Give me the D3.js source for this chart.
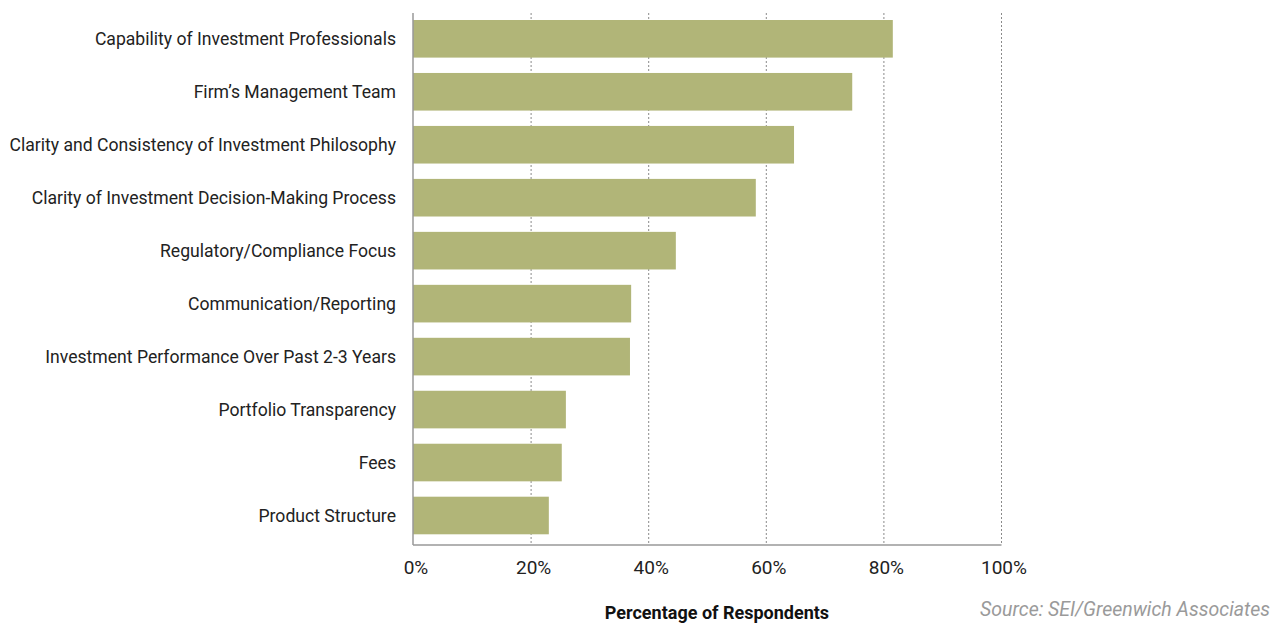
<!DOCTYPE html>
<html>
<head>
<meta charset="utf-8">
<script src="https://cdn.jsdelivr.net/npm/d3@7"></script>
<style>
  body { margin: 0; background: #fff; }
  svg text { font-family: "Roboto", "Liberation Sans", sans-serif; }
</style>
</head>
<body>
<svg id="chart" width="1272" height="624"></svg>
<script>
// data
var categories = [
  "Capability of Investment Professionals",
  "Firm\u2019s Management Team",
  "Clarity and Consistency of Investment Philosophy",
  "Clarity of Investment Decision-Making Process",
  "Regulatory/Compliance Focus",
  "Communication/Reporting",
  "Investment Performance Over Past 2-3 Years",
  "Portfolio Transparency",
  "Fees",
  "Product Structure"
];
var values = [81.6, 74.7, 64.8, 58.3, 44.7, 37.1, 36.9, 26.0, 25.3, 23.1];
var xTicks = [0, 20, 40, 60, 80, 100];

var svg = d3.select("#chart");

// scales
var xScale = d3.scaleLinear().domain([0, 100]).range([413, 1001]);
var yScale = d3.scaleBand()
  .domain(categories)
  .range([20, 534.3])
  .paddingInner(0.29)
  .paddingOuter(0);

var gridTop = 13, gridBottom = 545;

// dotted gridlines
svg.selectAll("line.grid")
  .data(xTicks.filter(t => t > 0))
  .join("line")
    .attr("class", "grid")
    .attr("x1", d => xScale(d) + 0.5)
    .attr("x2", d => xScale(d) + 0.5)
    .attr("y1", gridTop)
    .attr("y2", gridBottom)
    .style("stroke", "#8a8a8a")
    .style("stroke-width", 1)
    .style("stroke-dasharray", "2,2");

// bars
svg.selectAll("rect.bar")
  .data(categories.map((c, i) => ({cat: c, val: values[i]})))
  .join("rect")
    .attr("class", "bar")
    .attr("x", xScale(0))
    .attr("y", d => yScale(d.cat))
    .attr("width", d => xScale(d.val) - xScale(0))
    .attr("height", yScale.bandwidth())
    .style("fill", "#b1b578");

// axes lines
svg.append("line")
  .attr("x1", xScale(0)).attr("x2", xScale(0))
  .attr("y1", gridTop).attr("y2", gridBottom)
  .style("stroke", "#999").style("stroke-width", 1.5);

svg.append("line")
  .attr("x1", xScale(0)).attr("x2", xScale(100) + 0.5)
  .attr("y1", gridBottom).attr("y2", gridBottom)
  .style("stroke", "#999").style("stroke-width", 1.5);

// category labels
svg.selectAll("text.cat")
  .data(categories)
  .join("text")
    .attr("class", "cat")
    .attr("x", 396)
    .attr("y", d => yScale(d) + yScale.bandwidth() / 2)
    .attr("dy", ".35em")
    .attr("text-anchor", "end")
    .style("font-size", "17.6px")
    .style("fill", "#222")
    .text(d => d);

// tick labels
svg.selectAll("text.tick")
  .data(xTicks)
  .join("text")
    .attr("class", "tick")
    .attr("x", d => xScale(d) + 3)
    .attr("y", 574)
    .attr("text-anchor", "middle")
    .style("font-size", "19px")
    .style("fill", "#222")
    .text(d => d + "%");

// axis title
svg.append("text")
  .attr("x", 717)
  .attr("y", 619)
  .attr("text-anchor", "middle")
  .style("font-size", "18px")
  .style("font-weight", "bold")
  .style("fill", "#111")
  .text("Percentage of Respondents");

// source note
svg.append("text")
  .attr("x", 1270)
  .attr("y", 616)
  .attr("text-anchor", "end")
  .style("font-size", "19.5px")
  .style("font-style", "italic")
  .style("fill", "#9a9a9a")
  .text("Source: SEI/Greenwich Associates");
</script>
</body>
</html>
